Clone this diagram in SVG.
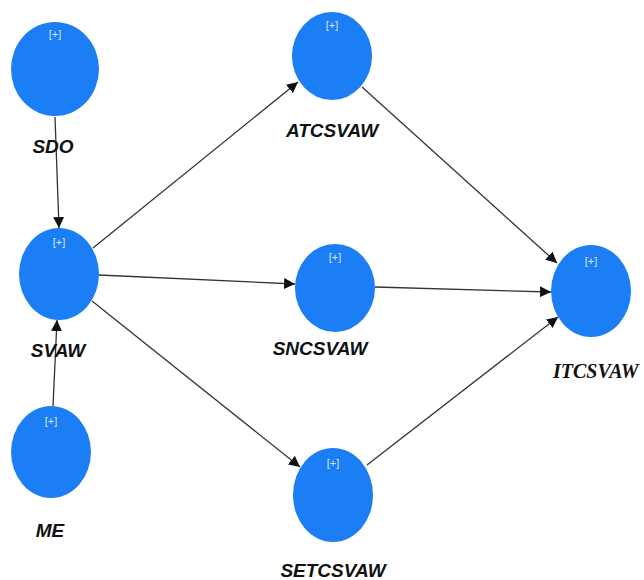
<svg xmlns="http://www.w3.org/2000/svg" width="644" height="580" viewBox="0 0 644 580">
<defs>
<marker id="ah" viewBox="0 0 10 10" refX="10" refY="5" markerWidth="11" markerHeight="11" markerUnits="userSpaceOnUse" orient="auto">
<path d="M0,0 L10,5 L0,10 z" fill="#111"/>
</marker>
<style>
.n{fill:#1c7ef4}
.p{font-family:"Liberation Sans",Arial,sans-serif;font-size:11px;fill:#d6e6ff;text-anchor:middle}
.l{font-family:"Liberation Sans",Arial,sans-serif;font-size:19px;font-weight:bold;font-style:italic;fill:#111;text-anchor:middle}
.ls{font-family:"Liberation Serif","Times New Roman",serif;font-size:20px;font-weight:bold;font-style:italic;fill:#111}
.c{stroke:#333;stroke-width:1.3;fill:none;marker-end:url(#ah)}
</style>
</defs>
<rect width="644" height="580" fill="#fff"/>
<g id="connectors">
<line class="c" x1="55" y1="117" x2="59" y2="228"/>
<line class="c" x1="53" y1="406" x2="57" y2="320"/>
<line class="c" x1="93" y1="248" x2="298" y2="82"/>
<line class="c" x1="99" y1="275" x2="295" y2="284"/>
<line class="c" x1="92" y1="301" x2="300" y2="467"/>
<line class="c" x1="362" y1="87" x2="557" y2="263"/>
<line class="c" x1="375" y1="287" x2="551" y2="292"/>
<line class="c" x1="367" y1="465" x2="558" y2="317"/>
</g>
<g id="SDO">
<ellipse class="n" cx="55" cy="69" rx="44" ry="47"/>
<text class="p" x="55" y="38">[+]</text>
<text class="l" x="53" y="153">SDO</text>
</g>
<g id="SVAW">
<ellipse class="n" cx="59" cy="274" rx="40" ry="46"/>
<text class="p" x="59" y="246">[+]</text>
<text class="l" x="58" y="357">SVAW</text>
</g>
<g id="ME">
<ellipse class="n" cx="51" cy="452" rx="40" ry="46"/>
<text class="p" x="51" y="425">[+]</text>
<text class="l" x="50" y="537">ME</text>
</g>
<g id="ATCSVAW">
<ellipse class="n" cx="332" cy="56" rx="40" ry="44"/>
<text class="p" x="332" y="29">[+]</text>
<text class="l" x="332" y="137">ATCSVAW</text>
</g>
<g id="SNCSVAW">
<ellipse class="n" cx="335" cy="288" rx="40" ry="44"/>
<text class="p" x="335" y="261">[+]</text>
<text class="l" x="320" y="355">SNCSVAW</text>
</g>
<g id="SETCSVAW">
<ellipse class="n" cx="333" cy="495" rx="40" ry="47"/>
<text class="p" x="333" y="467">[+]</text>
<text class="l" x="333" y="577">SETCSVAW</text>
</g>
<g id="ITCSVAW">
<ellipse class="n" cx="591" cy="291" rx="40" ry="46"/>
<text class="p" x="591" y="265">[+]</text>
<text class="ls" x="553" y="378">ITCSVAW</text>
</g>
</svg>
